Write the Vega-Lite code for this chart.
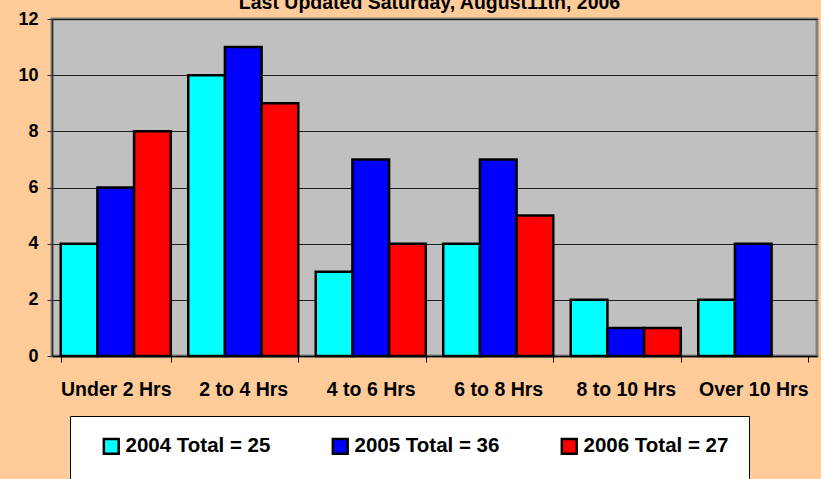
{
  "$schema": "https://vega.github.io/schema/vega-lite/v6.json",
  "autosize": {"type": "none"},
  "padding": {"left": 52, "top": 19, "right": 4, "bottom": 123},
  "width": 765,
  "height": 337,
  "background": "#FFCC99",
  "title": {
    "text": "Last Updated Saturday, August11th, 2006",
    "font": "Liberation Sans",
    "fontSize": 19.5,
    "fontWeight": "bold",
    "color": "#000000",
    "anchor": "middle",
    "offset": -3,
    "dx": -5
  },
  "data": {
    "values": [
      {"range": "Under 2 Hrs", "series": "2004 Total = 25", "count": 4},
      {"range": "Under 2 Hrs", "series": "2005 Total = 36", "count": 6},
      {"range": "Under 2 Hrs", "series": "2006 Total = 27", "count": 8},
      {"range": "2 to 4 Hrs", "series": "2004 Total = 25", "count": 10},
      {"range": "2 to 4 Hrs", "series": "2005 Total = 36", "count": 11},
      {"range": "2 to 4 Hrs", "series": "2006 Total = 27", "count": 9},
      {"range": "4 to 6 Hrs", "series": "2004 Total = 25", "count": 3},
      {"range": "4 to 6 Hrs", "series": "2005 Total = 36", "count": 7},
      {"range": "4 to 6 Hrs", "series": "2006 Total = 27", "count": 4},
      {"range": "6 to 8 Hrs", "series": "2004 Total = 25", "count": 4},
      {"range": "6 to 8 Hrs", "series": "2005 Total = 36", "count": 7},
      {"range": "6 to 8 Hrs", "series": "2006 Total = 27", "count": 5},
      {"range": "8 to 10 Hrs", "series": "2004 Total = 25", "count": 2},
      {"range": "8 to 10 Hrs", "series": "2005 Total = 36", "count": 1},
      {"range": "8 to 10 Hrs", "series": "2006 Total = 27", "count": 1},
      {"range": "Over 10 Hrs", "series": "2004 Total = 25", "count": 2},
      {"range": "Over 10 Hrs", "series": "2005 Total = 36", "count": 4}
    ]
  },
  "mark": {"type": "bar", "stroke": "#000000", "strokeWidth": 2.5},
  "encoding": {
    "x": {
      "field": "range",
      "type": "nominal",
      "sort": ["Under 2 Hrs", "2 to 4 Hrs", "4 to 6 Hrs", "6 to 8 Hrs", "8 to 10 Hrs", "Over 10 Hrs"],
      "scale": {"paddingInner": 0.137, "paddingOuter": 0.0685},
      "axis": {
        "title": null,
        "labelAngle": 0,
        "labelFont": "Liberation Sans",
        "labelFontSize": 19.5,
        "labelFontWeight": "bold",
        "labelColor": "#000000",
        "labelPadding": 18,
        "tickBand": "extent",
        "tickSize": 6,
        "tickColor": "#000000",
        "domainColor": "#000000",
        "domainWidth": 1.5,
        "grid": false
      }
    },
    "xOffset": {
      "field": "series",
      "type": "nominal",
      "scale": {"paddingInner": 0, "paddingOuter": 0}
    },
    "y": {
      "field": "count",
      "type": "quantitative",
      "scale": {"domain": [0, 12], "nice": false},
      "axis": {
        "title": null,
        "values": [0, 2, 4, 6, 8, 10, 12],
        "labelFont": "Liberation Sans",
        "labelFontSize": 18,
        "labelFontWeight": "bold",
        "labelColor": "#000000",
        "labelPadding": 9,
        "tickSize": 5,
        "tickColor": "#333333",
        "domainColor": "#333333",
        "domainWidth": 1.5,
        "grid": true,
        "gridColor": "#000000",
        "gridWidth": 1,
        "gridOpacity": 0.85
      }
    },
    "color": {
      "field": "series",
      "type": "nominal",
      "scale": {
        "domain": ["2004 Total = 25", "2005 Total = 36", "2006 Total = 27"],
        "range": ["#00FFFF", "#0000FF", "#FF0000"]
      },
      "legend": {
        "title": null,
        "orient": "none",
        "legendX": 18,
        "legendY": 397,
        "direction": "horizontal",
        "columns": 3,
        "columnPadding": 48,
        "padding": 20,
        "fillColor": "#FFFFFF",
        "strokeColor": "#000000",
        "symbolType": "square",
        "symbolSize": 220,
        "symbolStrokeColor": "#000000",
        "symbolStrokeWidth": 2.5,
        "symbolOffset": 11,
        "labelOffset": 4,
        "labelFont": "Liberation Sans",
        "labelFontSize": 20.5,
        "labelFontWeight": "bold",
        "labelColor": "#000000",
        "labelLimit": 400
      }
    }
  },
  "config": {
    "view": {"fill": "#C0C0C0", "stroke": "#808080", "strokeWidth": 3}
  }
}
